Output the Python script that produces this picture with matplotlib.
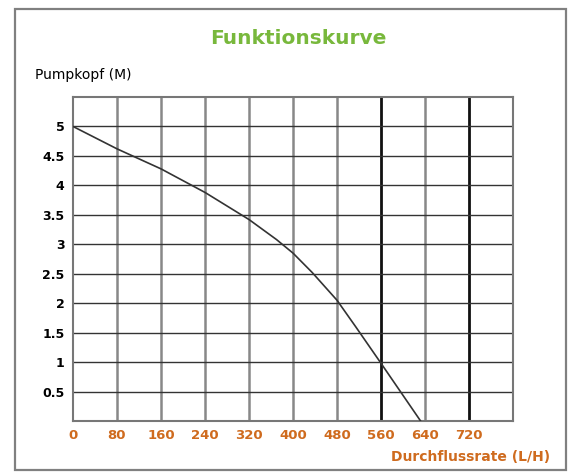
import matplotlib.pyplot as plt
from matplotlib.patches import Rectangle

# flow (L/H) vs. head (M)
flow = [0, 80, 160, 240, 320, 370, 400, 435, 480, 514, 560, 632]
head = [5.0, 4.62, 4.28, 3.88, 3.42, 3.08, 2.85, 2.52, 2.05, 1.6, 0.98, 0.0]

x_ticks = [0, 80, 160, 240, 320, 400, 480, 560, 640, 720]
y_ticks = [0.5, 1, 1.5, 2, 2.5, 3, 3.5, 4, 4.5, 5]
bold_lines = [560, 720]

green = '#78b83c'
orange = '#cf6b1e'

fig = plt.figure(figsize=(5.68, 4.73), dpi=100)
fig.patches.append(Rectangle((15 / 568, 1 - 470 / 473), 551 / 568, 461 / 473,
                             transform=fig.transFigure, fill=False,
                             edgecolor='#808080', lw=1.6))

ax = fig.add_axes([73 / 568, 1 - 421 / 473, 440 / 568, 324 / 473])
ax.set_xlim(0, 800)
ax.set_ylim(0, 5.5)

for x in x_ticks[1:]:
    if x in bold_lines:
        ax.axvline(x, color='#111111', lw=2.0, zorder=1)
    else:
        ax.axvline(x, color='#888888', lw=1.8, zorder=1)
for y in y_ticks:
    ax.axhline(y, color='#333333', lw=1.0, zorder=1)

ax.plot(flow, head, color='#333333', lw=1.2, zorder=3)

for s in ax.spines.values():
    s.set_color('#777777')
    s.set_linewidth(1.5)

ax.set_xticks(x_ticks)
ax.set_xticklabels([str(v) for v in x_ticks], color=orange, fontweight='bold',
                   fontsize=9.5)
ax.set_yticks(y_ticks)
ax.set_yticklabels([f'{v:g}' for v in y_ticks], fontweight='bold', fontsize=9)
ax.tick_params(length=0, pad=6)

fig.text(298 / 568, 1 - 38 / 473, 'Funktionskurve', color=green,
         fontsize=14.5, fontweight='bold', ha='center', va='center')
fig.text(35 / 568, 1 - 75 / 473, 'Pumpkopf (M)', fontsize=10,
         ha='left', va='center')
fig.text(550 / 568, 1 - 457 / 473, 'Durchflussrate (L/H)', color=orange,
         fontsize=10, fontweight='bold', ha='right', va='center')

fig.savefig('out.png', dpi=100)
